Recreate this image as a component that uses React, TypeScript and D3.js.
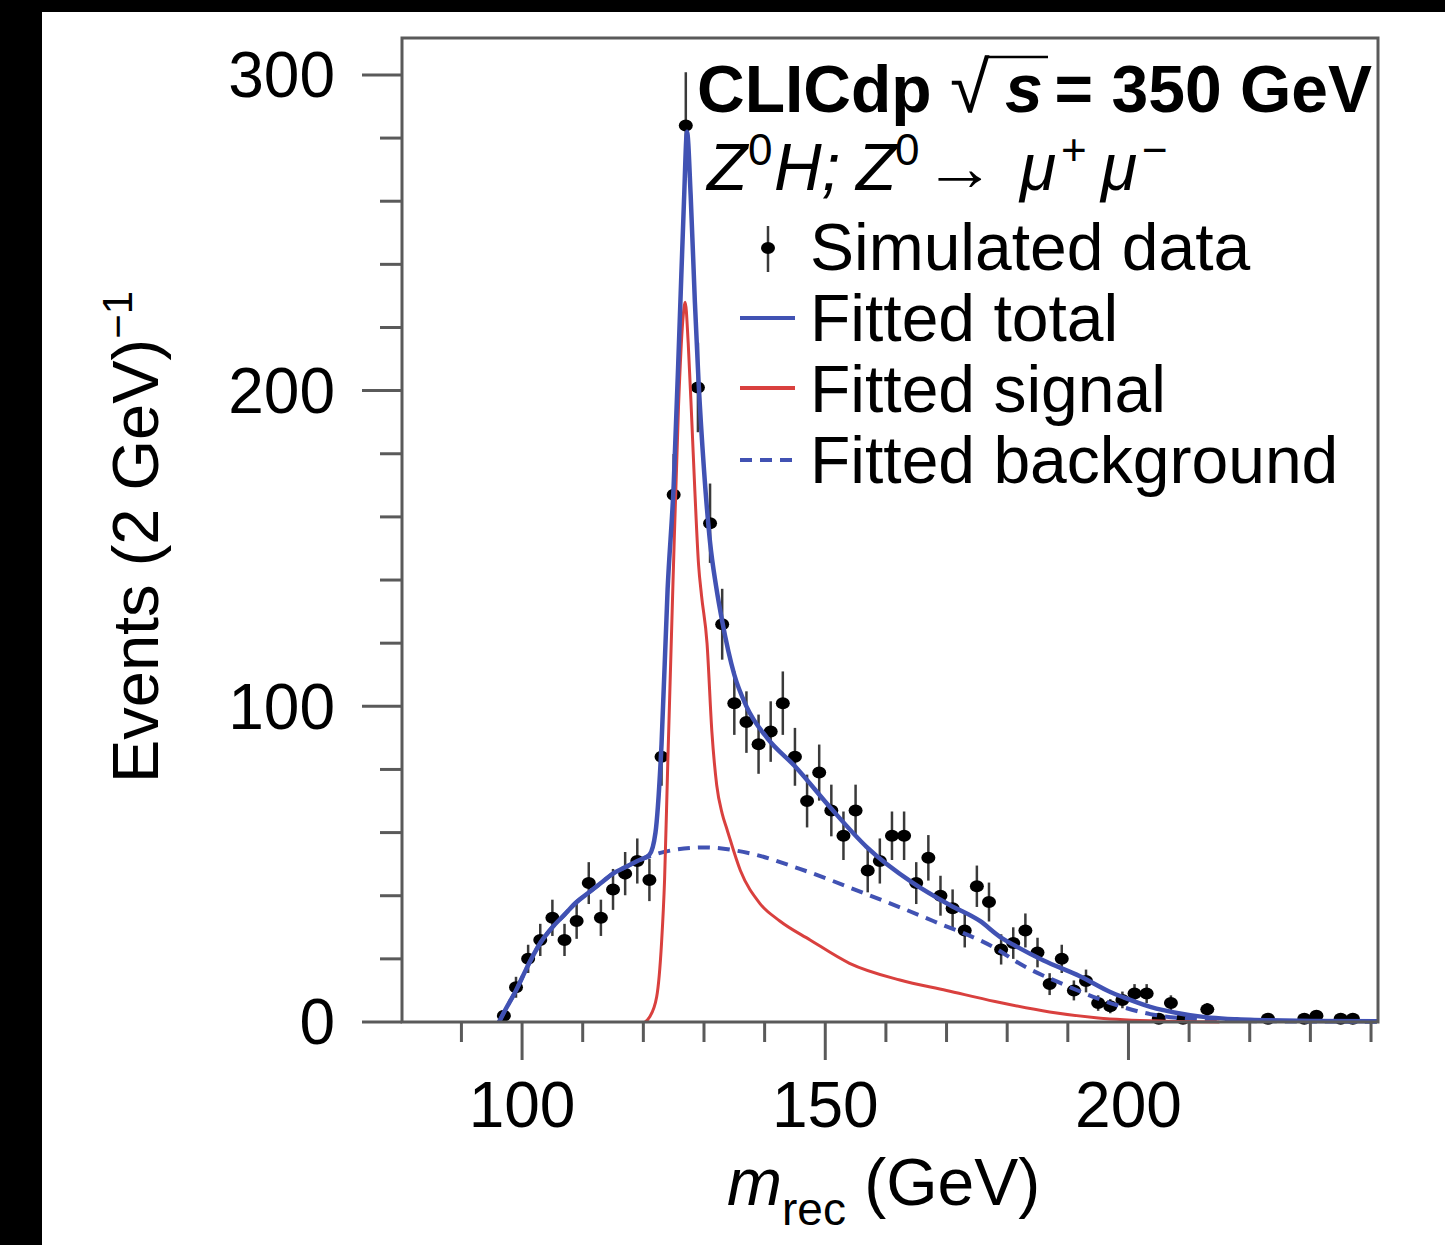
import React from 'react';
import * as d3 from 'd3';

// ---------- data ----------
const dataMass = [97, 99, 101, 103, 105, 107, 109, 111, 113, 115, 117, 119, 121, 123, 125, 127, 129, 131, 133, 135, 137, 139, 141, 143, 145, 147, 149, 151, 153, 155, 157, 159, 161, 163, 165, 167, 169, 171, 173, 175, 177, 179, 181, 183, 185, 187, 189, 191, 193, 195, 197, 199, 201, 203, 205, 207, 209, 213, 223, 229, 231, 235, 237];
const dataCounts = [2, 11, 20, 26, 33, 26, 32, 44, 33, 42, 47, 51, 45, 84, 167, 284, 201, 158, 126, 101, 95, 88, 92, 101, 84, 70, 79, 67, 59, 67, 48, 51, 59, 59, 44, 52, 40, 36, 29, 43, 38, 23, 25, 29, 22, 12, 20, 10, 13, 6, 5, 7, 9, 9, 1, 6, 1, 4, 1, 1, 2, 1, 1];

const totalMass = [96.2, 97, 99, 101, 103, 105, 107, 109, 111, 113, 115, 117, 119, 121, 122, 123, 124, 125, 126, 126.7, 127.2, 127.8, 128.5, 129.1, 130, 131, 132, 133, 135, 137, 140.4, 145, 150.8, 156.8, 164.5, 170.6, 175.5, 178.8, 181, 186, 192, 197, 199.2, 203.6, 208.5, 212, 220, 230, 241];
const totalVal = [0, 3, 10, 18, 25, 30, 34, 38, 41, 44, 47, 49, 51, 53, 60, 88, 137, 170, 222, 260, 282, 262, 228, 203, 175, 152, 138, 127, 110, 100, 90, 81, 68, 55.5, 44, 37, 32, 27, 24.5, 19.5, 14.5, 9.5, 7.8, 4.8, 2.7, 1.7, 0.7, 0.35, 0.2];

const sigMass = [120.3, 121, 122.2, 123, 123.5, 124, 124.9, 125.8, 126.5, 126.9, 127.4, 128, 128.5, 129.1, 129.6, 130.5, 131.3, 132.1, 133, 133.8, 136, 139.2, 142.5, 147.5, 154, 162.3, 170, 178, 187, 195, 205, 215];
const sigVal = [0, 1.5, 8, 25, 45, 80, 140, 195, 222, 228, 215, 190, 168, 145, 135, 120, 92, 75, 66, 61, 48, 37.6, 32, 26, 18.6, 13.3, 10, 6.5, 3.2, 1.3, 0.3, 0];

const bkgMass = [96.2, 97, 99, 101, 103, 105, 107, 109, 111, 113, 115, 117, 119, 121, 125, 130, 137.6, 145.8, 156.8, 167.8, 178.8, 181.6, 189.8, 197, 203.6, 210, 215, 225, 241];
const bkgVal = [0, 3, 10, 18, 25, 30, 34, 38, 41, 44, 47, 49, 51, 52.5, 54.5, 55.3, 53.4, 48.5, 40.5, 32, 22.5, 19, 11.5, 6, 2.5, 1, 0.5, 0.2, 0.1];

const xMajorTicks = [100, 150, 200];
const yMajorTicks = [0, 100, 200, 300];
const legendLabels = ['Simulated data', 'Fitted total', 'Fitted signal', 'Fitted background'];

const FONT = 'Liberation Sans, Arial, Helvetica, sans-serif';
const BLUE = '#4152b3';
const RED = '#d9403e';
const AXIS = '#5a5a5a';

export default function App() {
  const x = d3.scaleLinear().domain([80.2, 241.15]).range([402, 1378]);
  const y = d3.scaleLinear().domain([0, 311.7]).range([1022, 38]);

  const line = d3
    .line<[number, number]>()
    .x((d) => x(d[0]))
    .y((d) => y(d[1]))
    .curve(d3.curveMonotoneX);

  const totalPath = line(totalMass.map((m, i) => [m, totalVal[i]]) as [number, number][]) || '';
  const sigPath = line(sigMass.map((m, i) => [m, sigVal[i]]) as [number, number][]) || '';
  const bkgPath = line(bkgMass.map((m, i) => [m, bkgVal[i]]) as [number, number][]) || '';

  const xMinor = d3.range(90, 241, 10);
  const yMinor = d3.range(0, 301, 20);

  const [x0, x1] = x.range();
  const [yb, yt] = y.range();

  return (
    <div style={{ position: 'absolute', left: 0, top: 0 }}>
      <svg width={1445} height={1245} style={{ display: 'block', fontFamily: FONT }}>
        <rect x={0} y={0} width={1445} height={1245} fill="#fff" />
        <rect x={0} y={0} width={1445} height={12} fill="#000" />
        <rect x={0} y={0} width={42} height={1245} fill="#000" />

        {/* data points */}
        <g>
          {dataMass.map((m, i) => {
            const c = dataCounts[i];
            const e = Math.sqrt(c);
            return (
              <g key={'d' + i}>
                <line x1={x(m)} x2={x(m)} y1={y(Math.max(0, c - e))} y2={y(c + e)} stroke="#3a3a3a" strokeWidth={2.5} />
                <ellipse cx={x(m)} cy={y(c)} rx={7} ry={6} fill="#000" />
              </g>
            );
          })}
        </g>

        {/* fitted curves */}
        <path d={bkgPath} fill="none" stroke={BLUE} strokeWidth={4} strokeDasharray="12,8" />
        <path d={sigPath} fill="none" stroke={RED} strokeWidth={3} />
        <path d={totalPath} fill="none" stroke={BLUE} strokeWidth={4.5} />

        {/* frame */}
        <rect x={x0} y={yt} width={x1 - x0} height={yb - yt} fill="none" stroke={AXIS} strokeWidth={3} />

        {/* y ticks */}
        {yMinor.map((v) => {
          const major = v % 100 === 0;
          return (
            <line key={'yt' + v} x1={x0 - (major ? 40 : 22)} x2={x0} y1={y(v)} y2={y(v)} stroke={AXIS} strokeWidth={3} />
          );
        })}
        {yMajorTicks.map((v) => (
          <text key={'yl' + v} x={335} y={y(v)} dy="0.35em" textAnchor="end" fontSize={64} fill="#000">
            {v}
          </text>
        ))}

        {/* x ticks */}
        {xMinor.map((v) => {
          const major = xMajorTicks.includes(v);
          return (
            <line key={'xt' + v} x1={x(v)} x2={x(v)} y1={yb} y2={yb + (major ? 38 : 20)} stroke={AXIS} strokeWidth={3} />
          );
        })}
        {xMajorTicks.map((v) => (
          <text key={'xl' + v} x={x(v)} y={1127} textAnchor="middle" fontSize={64} fill="#000">
            {v}
          </text>
        ))}

        {/* axis titles */}
        <text x={727} y={1205} fontSize={66} fill="#000">
          <tspan fontStyle="italic">m</tspan>
          <tspan dy={20} fontSize={46}>rec</tspan>
          <tspan dy={-20}> (GeV)</tspan>
        </text>
        <text transform="translate(158, 537) rotate(-90)" textAnchor="middle" fontSize={65} fill="#000">
          Events (2 GeV)
          <tspan dy={-26} fontSize={42}>−1</tspan>
        </text>

        {/* header line 1 */}
        <text x={697} y={112} fontSize={66} fontWeight="bold" fill="#000">CLICdp</text>
        <text x={950} y={112} fontSize={72} fill="#000">√</text>
        <line x1={985} x2={1048} y1={57} y2={57} stroke="#000" strokeWidth={2.5} />
        <text x={1005} y={112} fontSize={68} fontWeight="bold" fontStyle="italic" fill="#000">s</text>
        <text x={1372} y={112} fontSize={66} fontWeight="bold" textAnchor="end" fill="#000">= 350 GeV</text>

        {/* header line 2 */}
        <g fill="#000">
          <text x={707} y={190} fontSize={66} fontStyle="italic">Z</text>
          <text x={748} y={165} fontSize={44}>0</text>
          <text x={774} y={190} fontSize={66} fontStyle="italic">H;</text>
          <text x={856} y={190} fontSize={66} fontStyle="italic">Z</text>
          <text x={895} y={165} fontSize={44}>0</text>
          <text x={924} y={190} fontSize={66} textLength={72} lengthAdjust="spacingAndGlyphs">→</text>
          <text x={1020} y={190} fontSize={66} fontStyle="italic">μ</text>
          <text x={1061} y={165} fontSize={44}>+</text>
          <text x={1101} y={190} fontSize={66} fontStyle="italic">μ</text>
          <text x={1142} y={165} fontSize={44}>−</text>
        </g>

        {/* legend */}
        <line x1={768} x2={768} y1={226} y2={272} stroke="#3a3a3a" strokeWidth={2.5} />
        <ellipse cx={768} cy={248} rx={7} ry={6} fill="#000" />
        <line x1={740} x2={795} y1={318} y2={318} stroke={BLUE} strokeWidth={4} />
        <line x1={740} x2={795} y1={388} y2={388} stroke={RED} strokeWidth={4} />
        <line x1={740} x2={795} y1={460} y2={460} stroke={BLUE} strokeWidth={4} strokeDasharray="12,8" />
        {legendLabels.map((t, i) => (
          <text key={'lg' + i} x={810} y={270 + i * 71} fontSize={66} fill="#000">
            {t}
          </text>
        ))}
      </svg>
    </div>
  );
}
